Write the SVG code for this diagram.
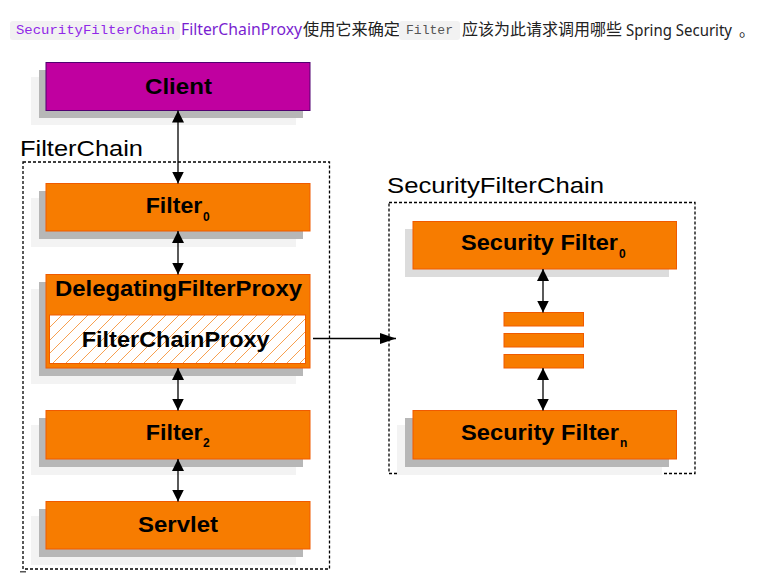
<svg xmlns="http://www.w3.org/2000/svg" width="779" height="574" viewBox="0 0 779 574">
<style>
.box{fill:#f77c00;stroke:#f05a00;stroke-width:1}
.sh1{fill:#b7b7b7}
.sh2{fill:#f3f3f3}
.lbl{font-family:"Liberation Sans",Arial,sans-serif;font-weight:bold;font-size:22.5px;fill:#000}
.sub{font-family:"Liberation Sans",Arial,sans-serif;font-weight:bold;font-size:12px;fill:#000}
.grp{font-family:"Liberation Sans",Arial,sans-serif;font-size:22px;fill:#000}
.dash{fill:none;stroke:#000;stroke-width:1.3;stroke-dasharray:3,2}
.conn{stroke:#000;stroke-width:1.3;fill:none}
.hd{font-family:"Noto Sans","Noto Sans CJK SC",sans-serif;font-size:16px;fill:#222}
.mono{font-family:"Liberation Mono","DejaVu Sans Mono",monospace;font-size:13px}
.chip{fill:#f2f2f2}
</style>
<defs>
<marker id="a" viewBox="0 0 12 12" refX="12" refY="6" markerWidth="12" markerHeight="12" markerUnits="userSpaceOnUse" orient="auto-start-reverse">
<path d="M0,0 L12,6 L0,12 z" fill="#000"/>
</marker>
<marker id="b" viewBox="0 0 16 11" refX="16" refY="5.5" markerWidth="16" markerHeight="11" markerUnits="userSpaceOnUse" orient="auto">
<path d="M0,0 L16,5.5 L0,11 z" fill="#000"/>
</marker>
<pattern id="hatch" patternUnits="userSpaceOnUse" width="13" height="13">
<rect width="13" height="13" fill="#fff"/>
<path d="M0,13 L13,0 M-3,3 L3,-3 M10,16 L16,10" stroke="#f7a050" stroke-width="1"/>
</pattern>
</defs>

<g id="header">
<rect class="chip" x="10" y="21" width="170" height="19" rx="3"/>
<text class="mono" x="16" y="34" textLength="159" lengthAdjust="spacingAndGlyphs" fill="#9028e8">SecurityFilterChain</text>
<text class="hd" x="181" y="35" textLength="121" lengthAdjust="spacingAndGlyphs" style="fill:#7a1fd0">FilterChainProxy</text>
<text class="hd" x="303" y="35" textLength="97" lengthAdjust="spacingAndGlyphs">使用它来确定</text>
<rect class="chip" x="399" y="21" width="61" height="19" rx="3"/>
<text class="mono" x="406" y="34" textLength="47" lengthAdjust="spacingAndGlyphs" fill="#555">Filter</text>
<text class="hd" x="462" y="35" textLength="160" lengthAdjust="spacingAndGlyphs">应该为此请求调用哪些</text>
<text class="hd" x="626" y="36" textLength="106" lengthAdjust="spacingAndGlyphs">Spring Security</text>
<text class="hd" x="739" y="36">。</text>
</g>

<g id="filterchain-group">
<rect class="dash" x="23" y="162" width="306.5" height="407"/>
<text class="grp" x="20" y="156" textLength="123" lengthAdjust="spacingAndGlyphs">FilterChain</text>
</g>

<g id="securityfilterchain-group">
<rect class="dash" x="389" y="202.5" width="306" height="271"/>
<text class="grp" x="387" y="193" textLength="217" lengthAdjust="spacingAndGlyphs">SecurityFilterChain</text>
</g>

<g id="client">
<rect class="sh2" x="31" y="77" width="265" height="48"/>
<rect class="sh1" x="39" y="70" width="264" height="48"/>
<rect x="46" y="62.5" width="264" height="48" fill="#c000a0" stroke="#500070" stroke-width="1"/>
<text class="lbl" x="145" y="94" textLength="67" lengthAdjust="spacingAndGlyphs">Client</text>
</g>

<g id="filter0">
<rect class="sh2" x="31" y="198" width="265" height="49"/>
<rect class="sh1" x="39" y="191" width="264" height="48"/>
<rect class="box" x="46" y="183.5" width="264" height="47.5"/>
<text class="lbl" x="145.7" y="212.5" textLength="56.6" lengthAdjust="spacingAndGlyphs">Filter</text>
<text class="sub" x="203" y="220.5">0</text>
</g>

<g id="delegatingfilterproxy">
<rect class="sh2" x="31" y="289" width="265" height="95"/>
<rect class="sh1" x="39" y="282" width="264" height="94"/>
<rect class="box" x="46" y="274.5" width="264" height="93.5"/>
<text class="lbl" x="55" y="295.5" textLength="247" lengthAdjust="spacingAndGlyphs">DelegatingFilterProxy</text>
<g id="filterchainproxy">
<rect x="49.5" y="315" width="256" height="48.5" fill="url(#hatch)" stroke="#f05a00" stroke-width="1"/>
<text class="lbl" x="81.7" y="346.5" textLength="188" lengthAdjust="spacingAndGlyphs">FilterChainProxy</text>
</g>
</g>

<g id="filter2">
<rect class="sh2" x="31" y="425" width="265" height="50"/>
<rect class="sh1" x="39" y="418" width="264" height="49"/>
<rect class="box" x="46" y="410.5" width="264" height="48.5"/>
<text class="lbl" x="145.7" y="440" textLength="57" lengthAdjust="spacingAndGlyphs">Filter</text>
<text class="sub" x="203" y="447">2</text>
</g>

<g id="servlet">
<rect class="sh2" x="31" y="516" width="265" height="49"/>
<rect class="sh1" x="39" y="509" width="264" height="48"/>
<rect class="box" x="46" y="501.5" width="264" height="47.5"/>
<text class="lbl" x="138" y="532" textLength="80" lengthAdjust="spacingAndGlyphs">Servlet</text>
</g>

<g id="securityfilter0">
<rect x="405" y="229" width="264" height="48" fill="#dcdcdc"/>
<rect class="box" x="413" y="221.5" width="263.5" height="47.5"/>
<text class="lbl" x="461" y="250" textLength="157" lengthAdjust="spacingAndGlyphs">Security Filter</text>
<text class="sub" x="619" y="257.5">0</text>
</g>

<g id="filter-bars">
<rect class="box" x="504" y="312.5" width="79.5" height="13.5"/>
<rect class="box" x="504" y="333.5" width="79.5" height="13.5"/>
<rect class="box" x="504" y="354.5" width="79.5" height="13.5"/>
</g>

<g id="securityfiltern">
<rect class="sh2" x="397" y="425" width="265" height="50"/>
<rect class="sh1" x="405" y="418" width="264" height="49"/>
<rect class="box" x="413" y="410.5" width="263.5" height="48.5"/>
<text class="lbl" x="461" y="439.5" textLength="158" lengthAdjust="spacingAndGlyphs">Security Filter</text>
<text class="sub" x="620" y="447">n</text>
</g>

<g id="connectors">
<line class="conn" x1="178" y1="110.5" x2="178" y2="183.5" marker-start="url(#a)" marker-end="url(#a)"/>
<line class="conn" x1="178" y1="231" x2="178" y2="274.5" marker-start="url(#a)" marker-end="url(#a)"/>
<line class="conn" x1="178" y1="368" x2="178" y2="410.5" marker-start="url(#a)" marker-end="url(#a)"/>
<line class="conn" x1="178" y1="459" x2="178" y2="501.5" marker-start="url(#a)" marker-end="url(#a)"/>
<line class="conn" x1="543" y1="269" x2="543" y2="312.5" marker-start="url(#a)" marker-end="url(#a)"/>
<line class="conn" x1="543" y1="368" x2="543" y2="410.5" marker-start="url(#a)" marker-end="url(#a)"/>
<line class="conn" x1="313" y1="338.5" x2="396" y2="338.5" marker-end="url(#b)"/>
</g>

<rect x="20" y="571" width="6" height="1.5" fill="#555"/>
</svg>
